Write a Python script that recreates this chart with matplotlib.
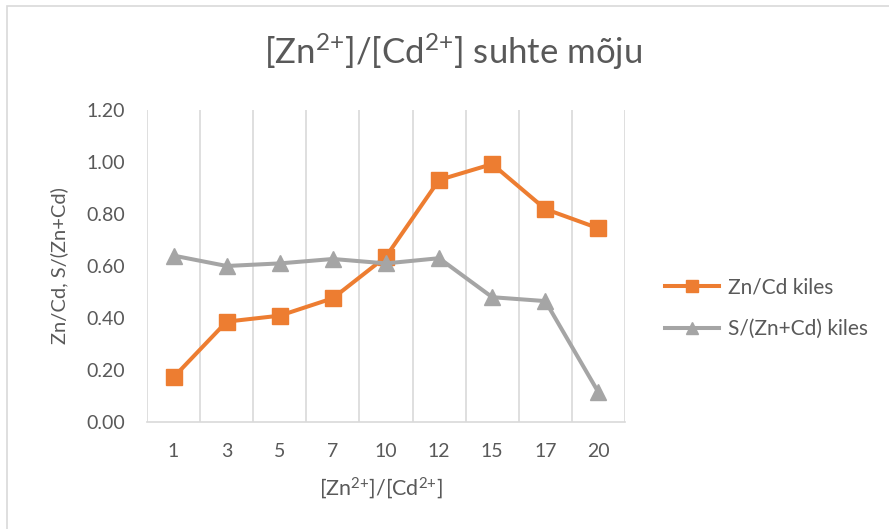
import matplotlib

matplotlib.use("Agg")

import matplotlib.pyplot as plt
from matplotlib.patches import Rectangle


ratios = ["1", "3", "5", "7", "10", "12", "15", "17", "20"]
zn_cd = [0.172, 0.386, 0.409, 0.476, 0.636, 0.931, 0.992, 0.819, 0.745]
s_zn_cd = [0.64, 0.60, 0.61, 0.627, 0.61, 0.63, 0.48, 0.465, 0.114]
y_ticks = [0.0, 0.2, 0.4, 0.6, 0.8, 1.0, 1.2]

ORANGE = "#ed7d31"
GREY = "#a5a5a5"
TEXT = "#595959"
GRID = "#d9d9d9"
SUP = r"$^{2{+}}$"

plt.rcParams["font.family"] = ["Lato", "DejaVu Sans"]
plt.rcParams["mathtext.fontset"] = "custom"
plt.rcParams["mathtext.rm"] = "Lato"
plt.rcParams["mathtext.it"] = "Lato"

fig = plt.figure(figsize=(8.89, 5.29), dpi=100)
fig.patches.append(
    Rectangle((7 / 889, -0.1), 1.2, 1.1 - 6 / 529, transform=fig.transFigure,
              fill=False, edgecolor=GRID, linewidth=1.2)
)

ax = fig.add_axes([147 / 889, 1 - 422 / 529, 478 / 889, 312 / 529])
x = list(range(len(ratios)))

ax.plot(x, zn_cd, color=ORANGE, linewidth=2.9, marker="s", markersize=12,
        label="Zn/Cd kiles", solid_joinstyle="round")
ax.plot(x, s_zn_cd, color=GREY, linewidth=2.9, marker="^", markersize=12,
        label="S/(Zn+Cd) kiles", solid_joinstyle="round")

ax.set_xlim(-0.5, len(ratios) - 0.5)
ax.set_ylim(0, 1.2)
ax.set_yticks(y_ticks)
ax.set_yticklabels([f"{v:.2f}" for v in y_ticks])
ax.set_xticks(x)
ax.set_xticklabels(ratios)

# category boundaries as vertical gridlines
for b in range(len(ratios) + 1):
    ax.axvline(b - 0.5, color=GRID, linewidth=1.2, zorder=0)

for side in ["left", "right", "top"]:
    ax.spines[side].set_visible(False)
ax.spines["bottom"].set_color(GRID)
ax.spines["bottom"].set_linewidth(1.2)
ax.tick_params(length=0, colors=TEXT, labelsize=14)
ax.tick_params(axis="x", pad=15)
ax.tick_params(axis="y", pad=16)

ax.set_xlabel(f"[Zn{SUP}]/[Cd{SUP}]", color=TEXT, fontsize=15.5)
ax.xaxis.set_label_coords(0.49, -0.17)
ax.set_ylabel("Zn/Cd, S/(Zn+Cd)", color=TEXT, fontsize=14.5)
ax.yaxis.set_label_coords(-0.165, 0.5)

fig.text(453 / 889, 1 - 52 / 529, f"[Zn{SUP}]/[Cd{SUP}] suhte mõju",
         ha="center", va="center", color=TEXT, fontsize=25)

ax.legend(loc="center left", bbox_to_anchor=(1 + 40 / 478, 0.365), frameon=False,
          fontsize=15, labelcolor=TEXT, handlelength=2.6, handletextpad=0.4,
          labelspacing=1.05, markerscale=0.7, borderpad=0, borderaxespad=0)

fig.savefig("out.png", dpi=100)
plt.close(fig)
